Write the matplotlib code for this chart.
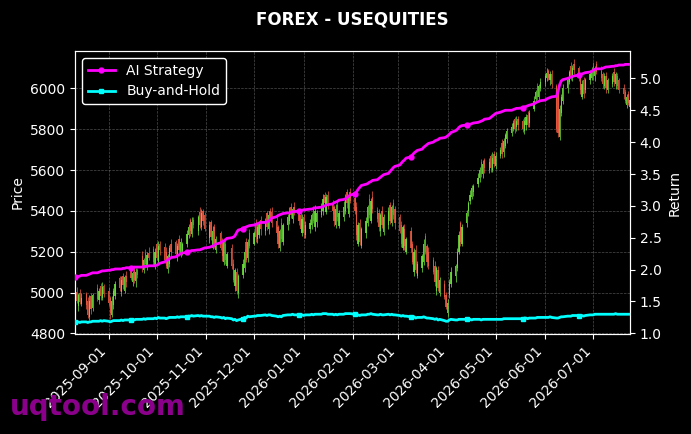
import numpy as np
import pandas as pd
import matplotlib
matplotlib.use('Agg')
import matplotlib.pyplot as plt
import matplotlib.dates as mdates

title = "FOREX - USEQUITIES"
start_date = '2025-08-11'
n_days = 250

opens = [
    4940, 5005, 4935, 5000, 4945,
    4995, 4960, 4880, 4985, 4925,
    5020, 4965, 5030, 4975, 5030,
    5010, 4975, 4890, 4940, 4985,
    5070, 5005, 5080, 5010, 5080,
    5105, 5050, 5110, 5055, 5110,
    5180, 5110, 5195, 5125, 5195,
    5215, 5135, 5240, 5150, 5240,
    5225, 5200, 5115, 5140, 5240,
    5250, 5180, 5260, 5190, 5195,
    5240, 5280, 5355, 5285, 5355,
    5300, 5395, 5320, 5400, 5380,
    5265, 5345, 5220, 5320, 5210,
    5290, 5250, 5150, 5240, 5130,
    5220, 5140, 5030, 5100, 5000,
    5085, 5120, 5250, 5170, 5290,
    5240, 5330, 5260, 5280, 5355,
    5300, 5390, 5310, 5400, 5395,
    5350, 5320, 5220, 5340, 5250,
    5330, 5350, 5420, 5360, 5420,
    5390, 5380, 5290, 5370, 5280,
    5310, 5330, 5410, 5320, 5345,
    5380, 5400, 5480, 5395, 5480,
    5440, 5420, 5330, 5430, 5325,
    5370, 5400, 5490, 5385, 5490,
    5465, 5420, 5240, 5340, 5230,
    5290, 5340, 5460, 5350, 5470,
    5405, 5390, 5300, 5400, 5295,
    5330, 5430, 5340, 5440, 5410,
    5370, 5330, 5220, 5310, 5200,
    5300, 5240, 5100, 5210, 5080,
    5120, 5150, 5275, 5230, 5200,
    5160, 5130, 5010, 5110, 5000,
    5040, 4990, 4900, 4990, 5040,
    5080, 5120, 5200, 5340, 5240,
    5340, 5400, 5450, 5470, 5490,
    5530, 5560, 5640, 5580, 5650,
    5600, 5670, 5600, 5680, 5620,
    5670, 5730, 5690, 5720, 5750,
    5780, 5800, 5850, 5810, 5850,
    5840, 5790, 5820, 5870, 5830,
    5900, 5950, 6010, 5960, 6000,
    6030, 6050, 6085, 6040, 6070,
    6010, 5990, 5760, 5880, 5940,
    6000, 6030, 6110, 6050, 6120,
    6100, 6060, 5960, 6040, 5990,
    6040, 6050, 6110, 6060, 6120,
    6085, 6070, 6010, 6060, 5990,
    6020, 6080, 6020, 6060, 6040,
    6000, 5980, 5920, 5970, 5910,
]

closes = [
    4985, 4960, 4990, 4955, 4975,
    4940, 4890, 4960, 4920, 4990,
    4970, 5010, 4985, 5025, 4995,
    4950, 4900, 4960, 5010, 5040,
    5020, 5060, 5035, 5075, 5050,
    5070, 5095, 5060, 5100, 5085,
    5120, 5160, 5140, 5185, 5170,
    5150, 5200, 5170, 5230, 5210,
    5160, 5130, 5180, 5220, 5200,
    5190, 5230, 5210, 5250, 5240,
    5285, 5320, 5300, 5345, 5330,
    5370, 5330, 5390, 5350, 5310,
    5330, 5270, 5300, 5240, 5260,
    5220, 5180, 5250, 5160, 5190,
    5130, 5060, 5110, 5010, 5080,
    5140, 5200, 5160, 5250, 5230,
    5290, 5270, 5320, 5340, 5310,
    5350, 5320, 5380, 5360, 5340,
    5290, 5240, 5300, 5260, 5330,
    5370, 5400, 5380, 5410, 5390,
    5350, 5310, 5360, 5290, 5330,
    5340, 5380, 5350, 5400, 5390,
    5420, 5460, 5440, 5470, 5430,
    5400, 5350, 5410, 5370, 5390,
    5420, 5470, 5440, 5480, 5450,
    5400, 5280, 5330, 5250, 5310,
    5350, 5420, 5380, 5450, 5410,
    5360, 5320, 5380, 5330, 5370,
    5400, 5350, 5420, 5380, 5340,
    5300, 5240, 5320, 5230, 5260,
    5220, 5150, 5200, 5110, 5140,
    5180, 5240, 5200, 5150, 5130,
    5100, 5050, 5120, 5020, 5060,
    4980, 4930, 4950, 5050, 5100,
    5130, 5200, 5280, 5250, 5320,
    5390, 5440, 5480, 5510, 5520,
    5560, 5600, 5580, 5630, 5610,
    5640, 5610, 5660, 5630, 5670,
    5700, 5680, 5740, 5770, 5790,
    5810, 5830, 5800, 5840, 5820,
    5800, 5840, 5860, 5820, 5880,
    5940, 5980, 5960, 6010, 6030,
    6060, 6075, 6050, 6070, 6020,
    5800, 5780, 5900, 5960, 6000,
    6040, 6080, 6060, 6100, 6090,
    6050, 5990, 6020, 5970, 6040,
    6070, 6090, 6060, 6100, 6080,
    6050, 6020, 6060, 6000, 6040,
    6060, 6030, 6070, 6010, 5990,
    5970, 5940, 5960, 5930, 5945,
]

wick_up = [
    12, 20, 8, 15, 25,   10, 18, 30, 14, 9,   22, 11, 16, 27, 13,   19, 8, 24, 12, 17,
    10, 21, 14, 9, 26,   15, 12, 20, 18, 11,  23, 9, 16, 13, 28,   14, 19, 10, 22, 12,
    17, 25, 11, 15, 20,  9, 13, 24, 18, 10,   21, 16, 12, 27, 14,   11, 23, 18, 9, 15,
    20, 12, 26, 14, 17,  10, 19, 13, 24, 11,  16, 22, 9, 18, 13,    25, 11, 17, 14, 20,
    12, 28, 15, 10, 19,  14, 9, 21, 16, 23,   18, 13, 10, 25, 12,   15, 20, 17, 11, 22,
    9, 16, 24, 13, 18,   21, 10, 14, 27, 12,  17, 23, 11, 15, 19,   13, 9, 22, 18, 14,
    26, 12, 16, 10, 20,  11, 24, 15, 19, 13,  18, 10, 21, 14, 25,   12, 17, 9, 23, 16,
    20, 14, 11, 18, 12,  15, 22, 13, 26, 10,  19, 12, 16, 24, 14,   11, 20, 17, 9, 22,
    13, 25, 10, 18, 15,  21, 12, 16, 14, 27,  10, 19, 23, 11, 17,   14, 9, 20, 15, 12,
    24, 16, 13, 21, 10,  18, 11, 26, 14, 19,  12, 22, 15, 10, 17,   20, 13, 9, 24, 16,
    11, 18, 14, 21, 12,  25, 10, 17, 13, 19,  15, 23, 11, 16, 20,   12, 14, 18, 10, 22,
    16, 11, 19, 13, 24,  10, 17, 22, 14, 12,  18, 13, 21, 9, 16,    23, 12, 15, 19, 11,
    14, 20, 10, 17, 13,  22, 15, 11, 18, 12,
]

wick_dn = [
    18, 11, 25, 13, 9,   22, 16, 12, 27, 14,  10, 19, 23, 11, 17,   14, 28, 9, 20, 15,
    12, 24, 16, 13, 21,  10, 18, 11, 26, 14,  19, 12, 22, 15, 10,   17, 20, 13, 9, 24,
    16, 11, 18, 14, 21,  12, 25, 10, 17, 13,  19, 15, 23, 11, 16,   20, 12, 14, 18, 10,
    22, 13, 9, 24, 16,   11, 27, 14, 19, 12,  15, 10, 21, 17, 25,   13, 18, 11, 22, 14,
    9, 20, 16, 12, 26,   17, 13, 24, 10, 19,  14, 22, 18, 11, 15,   23, 12, 16, 20, 9,
    18, 14, 11, 25, 13,  16, 21, 10, 17, 24,  12, 19, 15, 9, 22,    14, 26, 12, 18, 11,
    20, 13, 24, 16, 10,  15, 22, 11, 19, 14,  25, 12, 17, 10, 21,   13, 18, 24, 15, 11,
    19, 16, 12, 22, 27,  10, 17, 14, 20, 13,  23, 11, 18, 15, 9,    21, 14, 12, 25, 16,
    11, 19, 24, 13, 17,  14, 10, 22, 18, 12,  26, 15, 11, 20, 13,   17, 23, 16, 10, 19,
    12, 18, 14, 21, 25,  15, 22, 11, 16, 13,  10, 19, 24, 12, 18,   14, 11, 20, 17, 23,
    16, 13, 25, 10, 19,  12, 21, 15, 22, 11,  18, 14, 10, 24, 16,   13, 20, 12, 17, 15,
    22, 11, 18, 14, 20,  12, 16, 13, 19, 15,  21, 10, 17, 24, 12,   16, 19, 13, 22, 14,
    11, 18, 23, 15, 12,  20, 14, 17, 10, 19,
]

ai_strategy = [
    1.88, 1.88, 1.89, 1.90, 1.91,  1.91, 1.92, 1.93, 1.94, 1.95,
    1.95, 1.96, 1.97, 1.98, 1.98,  1.99, 1.99, 2.00, 2.00, 2.01,
    2.01, 2.01, 2.02, 2.02, 2.03,  2.03, 2.03, 2.04, 2.04, 2.04,
    2.04, 2.05, 2.05, 2.05, 2.06,  2.06, 2.06, 2.07, 2.08, 2.10,
    2.12, 2.14, 2.15, 2.17, 2.19,  2.20, 2.22, 2.23, 2.25, 2.26,
    2.27, 2.28, 2.29, 2.30, 2.30,  2.31, 2.31, 2.32, 2.33, 2.34,
    2.35, 2.36, 2.37, 2.38, 2.40,  2.42, 2.44, 2.45, 2.47, 2.49,
    2.50, 2.51, 2.53, 2.58, 2.62,  2.64, 2.66, 2.67, 2.68, 2.69,
    2.70, 2.71, 2.72, 2.73, 2.74,  2.74, 2.75, 2.76, 2.78, 2.81,
    2.83, 2.85, 2.86, 2.87, 2.88,  2.89, 2.89, 2.90, 2.91, 2.91,
    2.92, 2.92, 2.93, 2.94, 2.94,  2.95, 2.95, 2.96, 2.97, 2.97,
    2.98, 2.99, 3.00, 3.01, 3.02,  3.03, 3.05, 3.06, 3.07, 3.09,
    3.10, 3.11, 3.13, 3.15, 3.17,  3.19, 3.22, 3.26, 3.29, 3.32,
    3.34, 3.35, 3.37, 3.38, 3.40,  3.41, 3.43, 3.45, 3.47, 3.49,
    3.51, 3.54, 3.57, 3.60, 3.62,  3.64, 3.67, 3.70, 3.72, 3.75,
    3.77, 3.80, 3.83, 3.85, 3.87,  3.89, 3.92, 3.94, 3.96, 3.98,
    4.00, 4.02, 4.03, 4.04, 4.06,  4.07, 4.08, 4.10, 4.12, 4.15,
    4.18, 4.20, 4.23, 4.25, 4.26,  4.27, 4.27, 4.28, 4.29, 4.30,
    4.31, 4.32, 4.33, 4.34, 4.36,  4.37, 4.39, 4.41, 4.43, 4.45,
    4.47, 4.48, 4.49, 4.50, 4.50,  4.50, 4.51, 4.52, 4.53, 4.53,
    4.54, 4.55, 4.56, 4.57, 4.58,  4.60, 4.62, 4.63, 4.64, 4.65,
    4.66, 4.68, 4.69, 4.70, 4.71,  4.72, 4.80, 4.90, 4.96, 4.98,
    5.00, 5.01, 5.02, 5.03, 5.04,  5.05, 5.06, 5.07, 5.08, 5.09,
    5.10, 5.11, 5.13, 5.14, 5.15,  5.15, 5.16, 5.17, 5.18, 5.18,
    5.19, 5.19, 5.20, 5.20, 5.21,  5.21, 5.22, 5.22, 5.22, 5.22,
]

buy_hold = [
    1.18, 1.17, 1.18, 1.17, 1.18,  1.18, 1.17, 1.18, 1.18, 1.19,
    1.19, 1.19, 1.20, 1.19, 1.20,  1.19, 1.18, 1.19, 1.20, 1.20,
    1.20, 1.21, 1.20, 1.21, 1.21,  1.21, 1.22, 1.21, 1.22, 1.22,
    1.22, 1.23, 1.22, 1.23, 1.23,  1.23, 1.24, 1.23, 1.25, 1.24,
    1.24, 1.23, 1.24, 1.25, 1.25,  1.25, 1.26, 1.25, 1.26, 1.26,
    1.26, 1.27, 1.27, 1.28, 1.27,  1.28, 1.27, 1.28, 1.27, 1.27,
    1.27, 1.26, 1.26, 1.25, 1.26,  1.25, 1.24, 1.25, 1.23, 1.24,
    1.23, 1.21, 1.22, 1.20, 1.21,  1.23, 1.25, 1.24, 1.27, 1.26,
    1.27, 1.27, 1.28, 1.28, 1.28,  1.29, 1.28, 1.29, 1.29, 1.28,
    1.27, 1.26, 1.27, 1.26, 1.28,  1.29, 1.29, 1.29, 1.30, 1.29,
    1.29, 1.28, 1.29, 1.28, 1.29,  1.29, 1.30, 1.29, 1.30, 1.30,
    1.30, 1.31, 1.31, 1.31, 1.30,  1.30, 1.29, 1.30, 1.29, 1.30,
    1.30, 1.31, 1.31, 1.31, 1.31,  1.30, 1.28, 1.29, 1.28, 1.29,
    1.29, 1.30, 1.30, 1.31, 1.30,  1.29, 1.29, 1.30, 1.29, 1.29,
    1.30, 1.29, 1.30, 1.29, 1.29,  1.28, 1.27, 1.28, 1.27, 1.27,
    1.26, 1.25, 1.26, 1.24, 1.25,  1.25, 1.26, 1.25, 1.24, 1.24,
    1.23, 1.22, 1.23, 1.21, 1.22,  1.20, 1.19, 1.19, 1.21, 1.22,
    1.21, 1.21, 1.22, 1.22, 1.22,  1.22, 1.22, 1.22, 1.21, 1.22,
    1.22, 1.22, 1.21, 1.22, 1.22,  1.22, 1.22, 1.22, 1.22, 1.22,
    1.22, 1.22, 1.23, 1.23, 1.23,  1.23, 1.23, 1.23, 1.23, 1.23,
    1.23, 1.24, 1.24, 1.23, 1.24,  1.24, 1.24, 1.25, 1.25, 1.25,
    1.25, 1.25, 1.25, 1.26, 1.25,  1.24, 1.24, 1.25, 1.26, 1.26,
    1.27, 1.27, 1.27, 1.28, 1.28,  1.28, 1.27, 1.28, 1.27, 1.28,
    1.29, 1.29, 1.29, 1.30, 1.30,  1.30, 1.30, 1.30, 1.30, 1.30,
    1.30, 1.30, 1.31, 1.30, 1.30,  1.30, 1.30, 1.30, 1.30, 1.30,
]

dates = pd.bdate_range(start_date, periods=n_days)
x = mdates.date2num(dates.to_pydatetime())
o = np.array(opens, float)
c = np.array(closes, float)
hi = np.maximum(o, c) + np.array(wick_up, float)
lo = np.minimum(o, c) - np.array(wick_dn, float)
up = c >= o
green = '#6EE63C'
red = '#EE5A40'
cols = np.where(up, green, red)

fig = plt.figure(figsize=(6.91, 4.34), dpi=100, facecolor='black')
ax = fig.add_axes([75/691, 1-334/434, 555/691, 283/434])
ax.set_facecolor('black')

ax.vlines(x, lo, hi, colors=cols, linewidth=0.6, alpha=0.85, zorder=2)
body = np.where(np.abs(c - o) < 1, 1, c - o)
ax.bar(x, body, bottom=o, width=0.8, color=cols, alpha=0.85, linewidth=0, zorder=2)

ax.set_xlim(x[0], x[-1])
ax.set_ylim(4797, 6183)
ax.set_yticks([4800, 5000, 5200, 5400, 5600, 5800, 6000])
ax.xaxis.set_major_locator(mdates.MonthLocator(bymonthday=1))
ax.xaxis.set_major_formatter(mdates.DateFormatter('%Y-%m-%d'))
for lab in ax.get_xticklabels():
    lab.set_rotation(45)
    lab.set_ha('right')
ax.grid(True, color='gray', linestyle='--', linewidth=0.5, alpha=0.6)
ax.set_axisbelow(True)
ax.set_ylabel('Price', color='white', fontsize=10)
ax.tick_params(colors='white', labelsize=10)
for s in ax.spines.values():
    s.set_color('white')

ax2 = ax.twinx()
l1, = ax2.plot(x, ai_strategy, color='#FF00FF', linewidth=2, marker='o', markersize=3.5,
               markevery=25, label='AI Strategy', zorder=3)
l2, = ax2.plot(x, buy_hold, color='#00FFFF', linewidth=2, marker='s', markersize=3.5,
               markevery=25, label='Buy-and-Hold', zorder=3)
ax2.set_ylim(0.99, 5.43)
ax2.set_yticks([1.0, 1.5, 2.0, 2.5, 3.0, 3.5, 4.0, 4.5, 5.0])
ax2.set_ylabel('Return', color='white', fontsize=10)
ax2.tick_params(colors='white', labelsize=10)
for s in ax2.spines.values():
    s.set_color('white')

leg = ax2.legend(handles=[l1, l2], loc='upper left', facecolor='black', edgecolor='white',
                 labelcolor='white', fontsize=10, framealpha=1)

ax.set_title(title, color='white', fontsize=12, fontweight='bold', pad=19)

fig.text(0.014, 0.044, 'uqtool.com', fontsize=20, fontweight='bold', color='#8B008B',
         ha='left', va='baseline')

fig.savefig('out.png', dpi=100, facecolor='black')
